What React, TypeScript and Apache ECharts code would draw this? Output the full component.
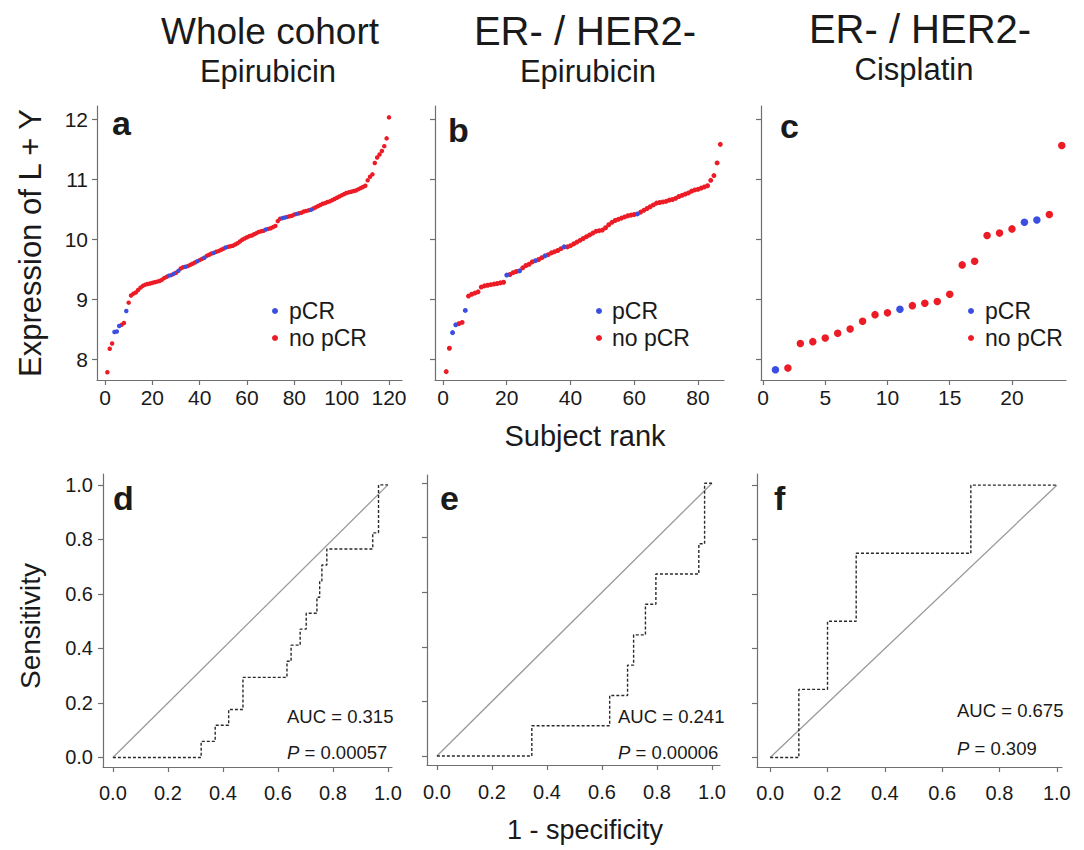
import React, { useEffect, useRef } from "react";
import * as echarts from "echarts";

// ---------- DATA ----------
// Panel a: whole cohort, epirubicin (rank 1..120)
const aValues = [
  7.78, 8.17, 8.26, 8.45, 8.46, 8.55, 8.57, 8.60, 8.80, 8.94,
  9.06, 9.09, 9.11, 9.15, 9.19, 9.22, 9.24, 9.25, 9.26, 9.27,
  9.28, 9.29, 9.30, 9.32, 9.35, 9.37, 9.39, 9.40, 9.42, 9.44,
  9.47, 9.51, 9.53, 9.54, 9.55, 9.57, 9.59, 9.61, 9.63, 9.65,
  9.67, 9.69, 9.72, 9.74, 9.76, 9.77, 9.79, 9.80, 9.82, 9.84,
  9.86, 9.87, 9.88, 9.89, 9.91, 9.93, 9.96, 9.99, 10.01, 10.03,
  10.05, 10.06, 10.08, 10.10, 10.12, 10.13, 10.14, 10.16, 10.17, 10.18,
  10.20, 10.22, 10.30, 10.34, 10.35, 10.36, 10.37, 10.38, 10.39, 10.41,
  10.42, 10.43, 10.44, 10.46, 10.47, 10.48, 10.49, 10.51, 10.53, 10.55,
  10.57, 10.59, 10.60, 10.62, 10.63, 10.65, 10.67, 10.69, 10.71, 10.73,
  10.75, 10.77, 10.78, 10.79, 10.80, 10.81, 10.83, 10.85, 10.87, 10.89,
  10.98, 11.04, 11.08, 11.27, 11.36, 11.41, 11.47, 11.55, 11.68, 12.03,
];
const aPcrRanks = [4, 5, 6, 9, 27, 29, 31, 34, 39, 42, 46, 51, 68, 75, 76, 81, 87];

// Panel b: ER- / HER2-, epirubicin (rank 1..87)
const bValues = [
  7.79, 8.18, 8.44, 8.57, 8.59, 8.61, 8.81, 9.05, 9.08, 9.10,
  9.12, 9.20, 9.22, 9.23, 9.24, 9.25, 9.26, 9.27, 9.28, 9.40,
  9.41, 9.44, 9.46, 9.47, 9.52, 9.56, 9.58, 9.62, 9.64, 9.66,
  9.69, 9.72, 9.74, 9.77, 9.79, 9.81, 9.84, 9.87, 9.87, 9.89,
  9.92, 9.95, 9.98, 10.01, 10.04, 10.07, 10.10, 10.13, 10.14, 10.15,
  10.19, 10.24, 10.28, 10.31, 10.33, 10.35, 10.37, 10.39, 10.40, 10.41,
  10.42, 10.45, 10.48, 10.51, 10.54, 10.57, 10.60, 10.61, 10.62, 10.63,
  10.65, 10.66, 10.68, 10.71, 10.73, 10.75, 10.77, 10.80, 10.82, 10.83,
  10.85, 10.87, 10.89, 10.98, 11.06, 11.27, 11.58,
];
const bPcrRanks = [3, 4, 7, 20, 24, 29, 32, 38, 61];

// Panel c: ER- / HER2-, cisplatin (rank 1..24)
const cValues = [
  7.82, 7.85, 8.26, 8.29, 8.35, 8.43, 8.50, 8.63, 8.74, 8.77,
  8.83, 8.89, 8.93, 8.96, 9.08, 9.57, 9.63, 10.06, 10.10, 10.17,
  10.28, 10.32, 10.41, 11.56,
];
const cPcrRanks = [1, 11, 21, 22];

const rankTicksA = [0, 20, 40, 60, 80, 100, 120];
const rankTicksB = [0, 20, 40, 60, 80];
const rankTicksC = [0, 5, 10, 15, 20];
const exprTicks = [8, 9, 10, 11, 12];
const rocTicks = [0, 0.2, 0.4, 0.6, 0.8, 1.0];

// ROC curves: [1 - specificity, sensitivity]
const rocD = [
  [0, 0], [0.321, 0], [0.321, 0.059], [0.372, 0.059], [0.372, 0.118],
  [0.421, 0.118], [0.421, 0.176], [0.473, 0.176], [0.473, 0.294],
  [0.633, 0.294], [0.633, 0.353], [0.648, 0.353], [0.648, 0.412],
  [0.681, 0.412], [0.681, 0.471], [0.703, 0.471], [0.703, 0.529],
  [0.742, 0.529], [0.742, 0.588], [0.752, 0.588], [0.752, 0.647],
  [0.760, 0.647], [0.760, 0.706], [0.778, 0.706], [0.778, 0.765],
  [0.945, 0.765], [0.945, 0.824], [0.966, 0.824], [0.966, 1.0], [1.0, 1.0],
];
const rocE = [
  [0, 0], [0.345, 0], [0.345, 0.111], [0.628, 0.111], [0.628, 0.222],
  [0.693, 0.222], [0.693, 0.333], [0.715, 0.333], [0.715, 0.444],
  [0.758, 0.444], [0.758, 0.556], [0.796, 0.556], [0.796, 0.667],
  [0.952, 0.667], [0.952, 0.778], [0.973, 0.778], [0.973, 1.0], [1.0, 1.0],
];
const rocF = [
  [0, 0], [0.1, 0], [0.1, 0.25], [0.2, 0.25], [0.2, 0.5], [0.3, 0.5],
  [0.3, 0.75], [0.7, 0.75], [0.7, 1.0], [1.0, 1.0],
];
const diagonal = [[0, 0], [1, 1]];

const aucLabels = ["AUC = 0.315", "AUC = 0.241", "AUC = 0.675"];
const pLabels = ["0.00057", "0.00006", "0.309"];

// ---------- STYLE ----------
const RED = "#ec1c26";
const BLUE = "#3a4fe2";
const AX = "#6f6f6f";
const TXT = "#1a1a1a";
const FONT = "Liberation Sans, Arial, sans-serif";

function splitPoints(values: number[], pcr: number[]) {
  const yes: number[][] = [];
  const no: number[][] = [];
  values.forEach((v, i) => {
    const r = i + 1;
    if (pcr.includes(r)) yes.push([r, v]);
    else no.push([r, v]);
  });
  return { yes, no };
}

function xAxis(gridIndex: number, min: number, max: number, ticks: number[], fmt: any, fontSize: number, margin: number) {
  return {
    type: "value",
    gridIndex,
    min,
    max,
    axisLine: { show: true, onZero: false, lineStyle: { color: AX, width: 1.2 } },
    axisTick: { show: true, customValues: ticks, length: 5, lineStyle: { color: AX, width: 1.2 } },
    axisLabel: { show: true, customValues: ticks, formatter: fmt, fontSize, color: TXT, fontFamily: FONT, margin },
    splitLine: { show: false },
  };
}

function yAxis(gridIndex: number, min: number, max: number, ticks: number[], showLabel: boolean, fmt: any, fontSize: number, margin: number) {
  return {
    type: "value",
    gridIndex,
    min,
    max,
    axisLine: { show: true, onZero: false, lineStyle: { color: AX, width: 1.2 } },
    axisTick: { show: true, customValues: ticks, length: 5, lineStyle: { color: AX, width: 1.2 } },
    axisLabel: { show: showLabel, customValues: ticks, formatter: fmt, fontSize, color: TXT, fontFamily: FONT, margin },
    splitLine: { show: false },
  };
}

function textEl(text: string, x: number, y: number, size: number, opts: any = {}) {
  return {
    type: "text",
    x,
    y,
    rotation: opts.rotation || 0,
    style: {
      text,
      fill: TXT,
      font: `${opts.weight || "normal"} ${size}px ${FONT}`,
      align: opts.align || "center",
      verticalAlign: "middle",
      rich: opts.rich,
    },
  };
}

export default function App() {
  const ref = useRef<HTMLDivElement>(null);

  useEffect(() => {
    if (!ref.current) return;
    const chart = echarts.init(ref.current, null, { renderer: "svg" });

    const a = splitPoints(aValues, aPcrRanks);
    const b = splitPoints(bValues, bPcrRanks);
    const c = splitPoints(cValues, cPcrRanks);

    const intFmt = (v: number) => String(Math.round(v));
    const decFmt = (v: number) => v.toFixed(1);

    const scatter = (name: string, data: number[][], idx: number, color: string, size: number) => ({
      type: "scatter",
      name,
      xAxisIndex: idx,
      yAxisIndex: idx,
      data,
      symbol: "circle",
      symbolSize: size,
      itemStyle: { color, opacity: 1 },
      silent: true,
    });

    const rocLine = (data: number[][], idx: number) => ({
      type: "line",
      xAxisIndex: idx,
      yAxisIndex: idx,
      data,
      symbol: "none",
      lineStyle: { color: "#2a2a2a", width: 1.4, type: [3, 2] },
      silent: true,
    });
    const diagLine = (idx: number) => ({
      type: "line",
      xAxisIndex: idx,
      yAxisIndex: idx,
      data: diagonal,
      symbol: "none",
      lineStyle: { color: "#9a9a9a", width: 1.3 },
      silent: true,
    });

    const graphics: any[] = [
      // column titles
      textEl("Whole cohort", 270, 31, 37),
      textEl("Epirubicin", 268, 71, 31),
      textEl("ER- / HER2-", 585, 31, 40),
      textEl("Epirubicin", 588, 71, 31),
      textEl("ER- / HER2-", 920, 29, 40),
      textEl("Cisplatin", 914, 69, 31),
      // axis titles
      textEl("Expression of L + Y", 30, 243, 31, { rotation: Math.PI / 2 }),
      textEl("Subject rank", 585, 436, 29),
      textEl("Sensitivity", 30, 626, 28, { rotation: Math.PI / 2 }),
      textEl("1 - specificity", 585, 830, 27),
      // panel letters
      textEl("a", 112, 123, 34, { weight: "bold", align: "left" }),
      textEl("b", 448, 130, 34, { weight: "bold", align: "left" }),
      textEl("c", 780, 126, 34, { weight: "bold", align: "left" }),
      textEl("d", 113, 498, 34, { weight: "bold", align: "left" }),
      textEl("e", 440, 498, 34, { weight: "bold", align: "left" }),
      textEl("f", 774, 498, 34, { weight: "bold", align: "left" }),
    ];

    // legends
    const legendPos = [[275, 289], [599, 612], [971, 985]];
    legendPos.forEach(([cx, tx]) => {
      graphics.push({ type: "circle", shape: { cx, cy: 311, r: 3 }, style: { fill: BLUE } });
      graphics.push({ type: "circle", shape: { cx, cy: 338, r: 3 }, style: { fill: RED } });
      graphics.push(textEl("pCR", tx, 311, 23, { align: "left" }));
      graphics.push(textEl("no pCR", tx, 338, 23, { align: "left" }));
    });

    // AUC / P annotations
    const aucPos = [[287, 716, 752], [618, 716, 752], [957, 710, 748]];
    aucPos.forEach(([x, y1, y2], i) => {
      graphics.push(textEl(aucLabels[i], x, y1, 18.5, { align: "left" }));
      graphics.push(
        textEl(`{i|P} = ${pLabels[i]}`, x, y2, 18.5, {
          align: "left",
          rich: { i: { fontStyle: "italic", fontSize: 18.5, fontFamily: FONT, fill: TXT } },
        })
      );
    });

    const option: any = {
      animation: false,
      backgroundColor: "#ffffff",
      grid: [
        { left: 97, top: 106, width: 305, height: 274 },
        { left: 435, top: 106, width: 289, height: 274 },
        { left: 761, top: 106, width: 305, height: 274 },
        { left: 103, top: 474, width: 289, height: 293 },
        { left: 427, top: 475, width: 293, height: 290 },
        { left: 757, top: 474, width: 305, height: 293 },
      ],
      xAxis: [
        xAxis(0, -3.38, 125.5, rankTicksA, intFmt, 21, 7),
        xAxis(1, -2.51, 88.16, rankTicksB, intFmt, 21, 7),
        xAxis(2, -0.16, 24.34, rankTicksC, intFmt, 21, 7),
        xAxis(3, -0.036, 1.015, rocTicks, decFmt, 20, 16),
        xAxis(4, -0.036, 1.029, rocTicks, decFmt, 20, 17),
        xAxis(5, -0.046, 1.018, rocTicks, decFmt, 20, 16),
      ],
      yAxis: [
        yAxis(0, 7.65, 12.22, exprTicks, true, intFmt, 21, 9),
        yAxis(1, 7.65, 12.22, exprTicks, false, intFmt, 21, 9),
        yAxis(2, 7.65, 12.22, exprTicks, false, intFmt, 21, 9),
        yAxis(3, -0.035, 1.04, rocTicks, true, decFmt, 20, 10),
        yAxis(4, -0.033, 1.03, rocTicks, false, decFmt, 20, 10),
        yAxis(5, -0.035, 1.041, rocTicks, false, decFmt, 20, 10),
      ],
      series: [
        scatter("no pCR", a.no, 0, RED, 4.5),
        scatter("pCR", a.yes, 0, BLUE, 4.5),
        scatter("no pCR", b.no, 1, RED, 5),
        scatter("pCR", b.yes, 1, BLUE, 5),
        scatter("no pCR", c.no, 2, RED, 7.5),
        scatter("pCR", c.yes, 2, BLUE, 7.5),
        diagLine(3),
        rocLine(rocD, 3),
        diagLine(4),
        rocLine(rocE, 4),
        diagLine(5),
        rocLine(rocF, 5),
      ],
      graphic: graphics,
    };

    chart.setOption(option);
    return () => chart.dispose();
  }, []);

  return (
    <div
      ref={ref}
      style={{ position: "fixed", left: 0, top: 0, width: 1084, height: 850, background: "#fff" }}
    />
  );
}
